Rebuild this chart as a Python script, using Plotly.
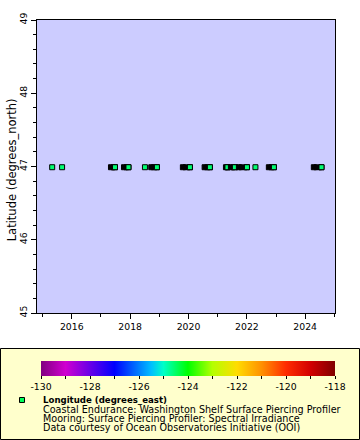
import plotly.graph_objects as go

# ---- data ----
deploy_start = ["2015-05-01", "2015-09-02", "2017-05-06", "2017-10-16", "2018-07-05",
                "2018-09-22", "2019-10-23", "2020-07-21", "2021-04-14", "2021-06-15",
                "2021-09-23", "2022-04-18", "2022-10-03", "2024-04-18"]
deploy_end = ["2015-05-01", "2015-09-02", "2017-06-25", "2017-12-11", "2018-07-05",
              "2018-12-02", "2020-01-19", "2020-09-25", "2021-05-03", "2021-08-04",
              "2022-01-02", "2022-04-18", "2022-12-05", "2024-07-23"]
deploy_lat = [46.99, 46.99, 46.99, 46.99, 46.99, 46.99, 46.99,
              46.99, 46.99, 46.99, 46.99, 46.99, 46.99, 46.99]
deploy_lon = [-124.57, -124.57, -124.57, -124.57, -124.57, -124.57, -124.57,
              -124.57, -124.57, -124.57, -124.57, -124.57, -124.57, -124.57]

cbar_vals = [-130, -129, -128, -127, -126, -125, -124, -123, -122, -121, -120, -119, -118]
cbar_text = ["-130", "", "-128", "", "-126", "", "-124", "", "-122", "", "-120", "", "-118"]

legend_title = "Longitude (degrees_east)"
legend_lines = ["Coastal Endurance: Washington Shelf Surface Piercing Profiler",
                "Mooring: Surface Piercing Profiler: Spectral Irradiance",
                "Data courtesy of Ocean Observatories Initiative (OOI)"]

# ---- style ----
FONT = "DejaVu Sans"
W, H = 360, 440
L, R, T, B = 37, 335, 20, 313


def px_x(x):
    return x / W


def px_y(y):
    return 1 - y / H


colorscale = [
    [0.0, "rgb(128,0,128)"],
    [0.0833, "rgb(208,0,208)"],
    [0.25, "rgb(0,0,255)"],
    [0.375, "rgb(0,190,255)"],
    [0.4167, "rgb(0,255,200)"],
    [0.5, "rgb(0,255,0)"],
    [0.5833, "rgb(180,255,0)"],
    [0.6667, "rgb(255,220,0)"],
    [0.75, "rgb(255,145,0)"],
    [0.8333, "rgb(255,45,0)"],
    [0.9167, "rgb(210,0,0)"],
    [1.0, "rgb(128,0,0)"],
]

fig = go.Figure()
first = True
for s, e, lat, lon in zip(deploy_start, deploy_end, deploy_lat, deploy_lon):
    if s != e:
        fig.add_trace(go.Scatter(
            x=[s, e], y=[lat, lat], mode="lines+markers",
            line=dict(color="black", width=6),
            marker=dict(symbol="square", size=5, color="black",
                        line=dict(color="black", width=1)),
            hoverinfo="skip"))
    fig.add_trace(go.Scatter(
        x=[e], y=[lat], mode="markers",
        marker=dict(symbol="square", size=5, color=[lon], colorscale=colorscale,
                    cmin=-130, cmax=-118, line=dict(color="black", width=1),
                    showscale=first,
                    colorbar=dict(
                        orientation="h", lenmode="pixels", len=294, thickness=15,
                        x=px_x(41), xanchor="left", y=px_y(361), yanchor="top",
                        xpad=0, ypad=0, outlinewidth=0,
                        tickmode="array", tickvals=cbar_vals, ticktext=cbar_text,
                        ticks="outside", ticklen=3, tickcolor="black",
                        tickfont=dict(family=FONT, size=9.3, color="black"))),
    ))
    first = False

shapes = [
    dict(type="rect", xref="paper", yref="paper",
         x0=px_x(0.5), x1=px_x(359.5), y0=px_y(439.5), y1=px_y(348.5),
         fillcolor="#ffffcc", line=dict(color="black", width=1), layer="below"),
    dict(type="rect", xref="paper", yref="paper",
         x0=px_x(19.5), x1=px_x(24.5), y0=px_y(402.5), y1=px_y(397.5),
         fillcolor="rgb(0,255,90)", line=dict(color="black", width=1)),
]

annotations = [
    dict(text="Latitude (degrees_north)", textangle=-90, xref="paper", yref="paper",
         x=px_x(12.3), y=px_y(170), xanchor="center", yanchor="middle",
         showarrow=False, font=dict(family=FONT, size=11.5, color="black"),
         borderpad=0, borderwidth=0),
    dict(text="<b>" + legend_title + "</b>", xref="paper", yref="paper",
         x=px_x(42.5), y=px_y(399.8), xanchor="left", yanchor="middle",
         showarrow=False, font=dict(family=FONT, size=8.6, color="black"),
         borderpad=0, borderwidth=0),
]
for i, line in enumerate(legend_lines):
    annotations.append(dict(
        text=line, xref="paper", yref="paper",
        x=px_x(42.5), y=px_y(409 + 9.25 * i), xanchor="left", yanchor="middle",
        showarrow=False, font=dict(family=FONT, size=9.6, color="black"),
        borderpad=0, borderwidth=0))

fig.update_layout(
    width=W, height=H,
    margin=dict(l=0, r=0, t=0, b=0, pad=0),
    paper_bgcolor="white", plot_bgcolor="#ccccff",
    showlegend=False,
    shapes=shapes, annotations=annotations,
    xaxis=dict(type="date", range=["2014-10-23", "2025-01-08"],
               domain=[L / W, R / W],
               tick0="2016-01-01", dtick="M24", tickformat="%Y",
               ticks="outside", ticklen=5, tickcolor="black", tickwidth=1,
               showline=True, linecolor="black", linewidth=1, mirror=True,
               showgrid=False, zeroline=False, automargin=False,
               tickfont=dict(family=FONT, size=9.3, color="black"),
               minor=dict(tick0="2015-01-01", dtick="M12", ticks="outside",
                          ticklen=3, tickcolor="black", showgrid=False)),
    yaxis=dict(range=[45, 49], tick0=45, dtick=1, tickangle=-90,
               domain=[1 - B / H, 1 - T / H],
               ticks="outside", ticklen=5, tickcolor="black", tickwidth=1,
               showline=True, linecolor="black", linewidth=1, mirror=True,
               showgrid=False, zeroline=False, automargin=False,
               tickfont=dict(family=FONT, size=9.3, color="black"),
               minor=dict(dtick=0.2, ticks="outside", ticklen=3,
                          tickcolor="black", showgrid=False)),
)

fig.write_html("out.html", config={"displayModeBar": False},
               post_script="document.body.style.margin='0';"
                           "document.body.style.overflow='hidden';")
